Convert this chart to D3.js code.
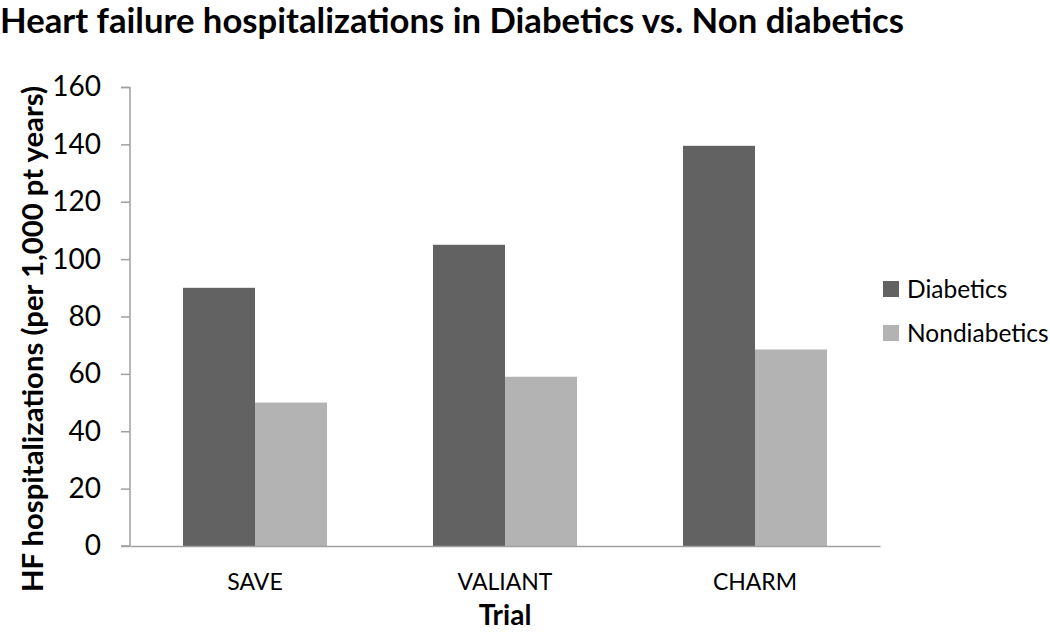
<!DOCTYPE html>
<html>
<head>
<meta charset="utf-8">
<script src="https://cdn.jsdelivr.net/npm/d3@7"></script>
<style>
  body { margin: 0; background: #fff; }
  text { font-family: Lato, "Open Sans", sans-serif; fill: #000; }
</style>
</head>
<body>
<div id="chart"></div>
<script>
// data
var trials = ["SAVE", "VALIANT", "CHARM"];
var diabetics = [90, 105, 139.5];
var nondiabetics = [50, 59, 68.5];
var seriesNames = ["Diabetics", "Nondiabetics"];
var seriesColors = ["#626262", "#b3b3b3"];
var yTicks = [0, 20, 40, 60, 80, 100, 120, 140, 160];

var svgWidth = 1050;
var svgHeight = 632;
var margin = { top: 87, right: 170, bottom: 86, left: 130 };
var width = svgWidth - margin.left - margin.right;
var height = svgHeight - margin.top - margin.bottom;

var svg = d3.select("#chart")
    .append("svg")
    .attr("width", svgWidth)
    .attr("height", svgHeight);

var chartGroup = svg.append("g")
    .attr("transform", `translate(${margin.left}, ${margin.top})`);

// scales
var x0 = d3.scaleBand()
    .domain(trials)
    .range([0, width])
    .paddingInner(0.424)
    .paddingOuter(0.212);

var x1 = d3.scaleBand()
    .domain(seriesNames)
    .range([0, x0.bandwidth()]);

var yLinearScale = d3.scaleLinear()
    .domain([0, 160])
    .range([height, 0]);

// bars
var rows = trials.map(function(t, i) {
    return { trial: t, values: [diabetics[i], nondiabetics[i]] };
});

var groups = chartGroup.selectAll(".group")
    .data(rows)
    .enter()
    .append("g")
    .attr("transform", d => `translate(${x0(d.trial)}, 0)`);

groups.selectAll("rect")
    .data(d => d.values.map((v, j) => ({ name: seriesNames[j], value: v, color: seriesColors[j] })))
    .enter()
    .append("rect")
    .attr("x", d => x1(d.name))
    .attr("width", x1.bandwidth())
    .attr("y", d => yLinearScale(d.value))
    .attr("height", d => height - yLinearScale(d.value))
    .attr("fill", d => d.color);

// y axis
var leftAxis = d3.axisLeft(yLinearScale)
    .tickValues(yTicks)
    .tickSize(9)
    .tickPadding(20);

var yAxis = chartGroup.append("g").call(leftAxis);
yAxis.select(".domain").attr("stroke", "#a0a0a0").attr("stroke-width", 1.5)
    .attr("d", `M-9,0.5H0V${height}H-9`);
yAxis.selectAll(".tick line").attr("stroke", "#a0a0a0").attr("stroke-width", 1.5);
yAxis.selectAll(".tick text")
    .style("font-size", "28px")
    .style("font-family", "Lato, sans-serif")
    .attr("fill", "#000");

// x axis
var bottomAxis = d3.axisBottom(x0).tickSize(0).tickPadding(27);
var xAxis = chartGroup.append("g")
    .attr("transform", `translate(0, ${height})`)
    .call(bottomAxis);
xAxis.select(".domain").attr("stroke", "#a0a0a0").attr("stroke-width", 1.5);
xAxis.selectAll(".tick text")
    .attr("dy", null)
    .attr("y", 44)
    .style("font-size", "23px")
    .style("font-family", "Lato, sans-serif")
    .attr("fill", "#000");

// title
svg.append("text")
    .attr("x", 0)
    .attr("y", 33)
    .attr("textLength", 904)
    .attr("lengthAdjust", "spacingAndGlyphs")
    .style("font-size", "34px")
    .style("font-weight", "bold")
    .text("Heart failure hospitalizations in Diabetics vs. Non diabetics");

// axis titles
svg.append("text")
    .attr("x", margin.left + width / 2)
    .attr("y", 625)
    .attr("text-anchor", "middle")
    .style("font-size", "28px")
    .style("font-weight", "bold")
    .text("Trial");

svg.append("text")
    .attr("transform", `translate(43, 339) rotate(-90)`)
    .attr("text-anchor", "middle")
    .attr("textLength", 506)
    .attr("lengthAdjust", "spacingAndGlyphs")
    .style("font-size", "29px")
    .style("font-weight", "bold")
    .text("HF hospitalizations (per 1,000 pt years)");

// legend
var legend = svg.append("g")
    .attr("transform", "translate(883, 281)");

var items = legend.selectAll("g")
    .data(seriesNames)
    .enter()
    .append("g")
    .attr("transform", (d, i) => `translate(0, ${i * 44})`);

items.append("rect")
    .attr("width", 16)
    .attr("height", 16)
    .attr("fill", (d, i) => seriesColors[i]);

items.append("text")
    .attr("x", 24)
    .attr("y", 8)
    .attr("dy", "0.35em")
    .style("font-size", "24.5px")
    .text(d => d);
</script>
</body>
</html>
